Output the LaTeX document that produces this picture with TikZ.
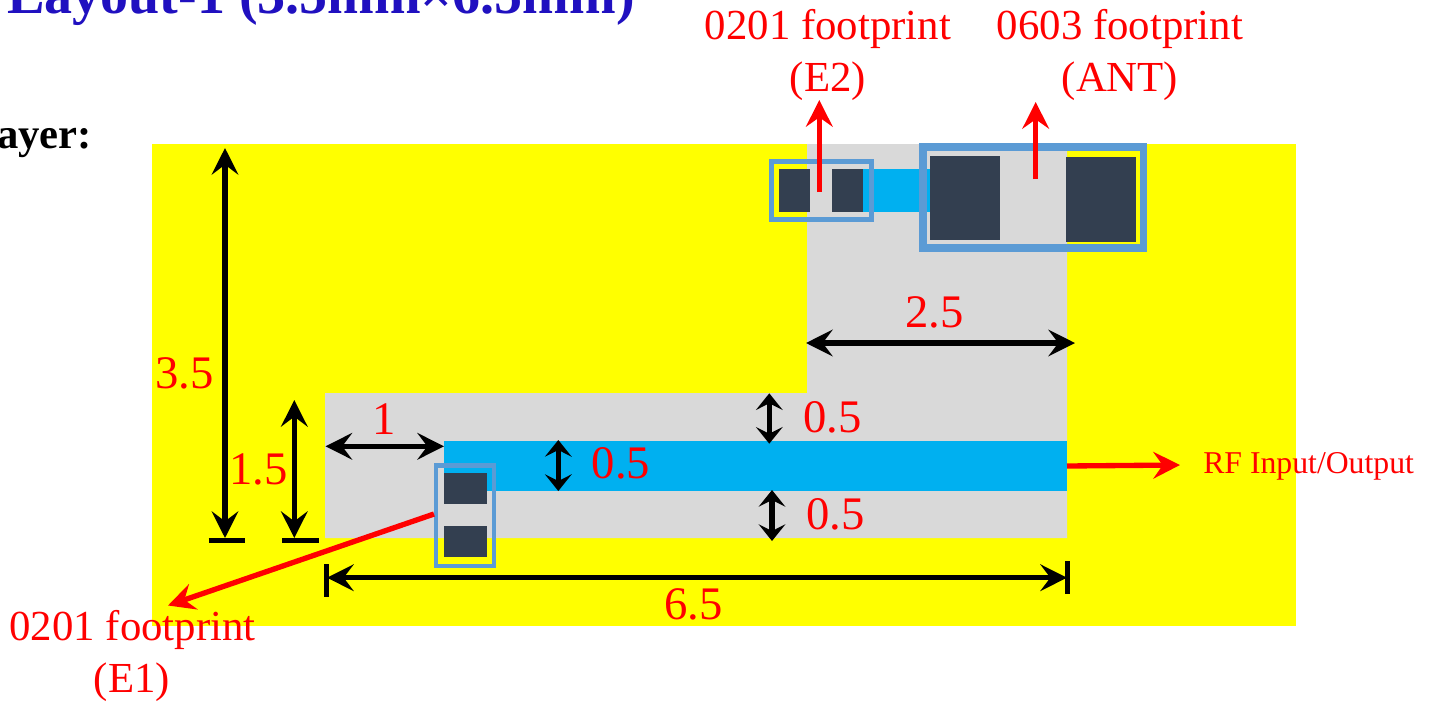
\documentclass[tikz,border=0pt]{standalone}
\usepackage{fontspec}
\setmainfont{Liberation Serif}
\usetikzlibrary{arrows.meta}
\definecolor{padc}{HTML}{333F50}
\definecolor{boxc}{HTML}{5B9BD5}
\definecolor{trace}{HTML}{00B0F0}
\definecolor{groundc}{HTML}{D9D9D9}
\definecolor{titlec}{HTML}{2010C0}
\definecolor{boardc}{HTML}{FFFF00}
\definecolor{redc}{HTML}{FF0000}
\tikzset{
  x=0.75pt,y=-0.75pt,
  fp/.style={draw=boxc,fill=none,line width=3.4pt},
  dim/.style={draw=black,line width=4pt,{Stealth[length=20pt,width=20pt,inset=7.5pt]}-{Stealth[length=20pt,width=20pt,inset=7.5pt]}},
  dimshort/.style={draw=black,line width=4pt,{Stealth[length=12.5pt,width=20pt,inset=5pt]}-{Stealth[length=12.5pt,width=20pt,inset=5pt]}},
  tick/.style={draw=black,line width=4pt},
  rarrow/.style={draw=redc,line width=4pt,-{Stealth[length=20pt,width=20pt,inset=7pt]}},
  lab/.style={text=redc,font=\fontsize{32.1}{36}\selectfont,anchor=base,inner sep=0pt},
  numlab/.style={text=redc,font=\fontsize{35}{38}\selectfont,anchor=base,inner sep=0pt},
}
\begin{document}
\begin{tikzpicture}
\useasboundingbox (0,0) rectangle (1435,704);
\clip (0,0) rectangle (1435,704);
% board
\fill[boardc] (152,144) rectangle (1296,626);
\fill[groundc] (325,393) -- (807,393) -- (807,144) -- (1067,144) -- (1067,538) -- (325,538) -- cycle;
\fill[trace] (444,441) rectangle (1067,491);
\fill[trace] (863,169) rectangle (930,212);
% pads
\fill[padc] (779,169) rectangle (810,212);
\fill[padc] (832,169) rectangle (863,212);
\fill[padc] (930,156) rectangle (1000,240);
\fill[padc] (1066,157) rectangle (1136,242);
\fill[padc] (444,473) rectangle (487,504);
\fill[padc] (444,526) rectangle (487,557);
% footprint outlines
\draw[fp] (771.5,161.6) rectangle (871.6,219.7);
\draw[fp,line width=5.4pt] (923,147) rectangle (1143.6,248);
\draw[fp] (436,465.6) rectangle (494,566);
% coordinates
\coordinate (a35t) at (225,148); \coordinate (a35b) at (225,538);
\coordinate (a15t) at (294.3,400); \coordinate (a15b) at (294.3,538);
\coordinate (t35l) at (208.7,540.7); \coordinate (t35r) at (245.3,540.7);
\coordinate (t15l) at (282,540.7); \coordinate (t15r) at (318.7,540.7);
\coordinate (a1l) at (325.5,446.3); \coordinate (a1r) at (444,446.3);
\coordinate (a65l) at (327,577.7); \coordinate (a65r) at (1067,577.7);
\coordinate (t65lt) at (326.7,564); \coordinate (t65lb) at (326.7,597);
\coordinate (t65rt) at (1067.5,561); \coordinate (t65rb) at (1067.5,594);
\coordinate (a25l) at (806,343); \coordinate (a25r) at (1075,343);
\coordinate (a05at) at (769.3,393.3); \coordinate (a05ab) at (769.3,443.7);
\coordinate (a05bt) at (558.3,440); \coordinate (a05bb) at (558.3,491);
\coordinate (a05ct) at (772,490); \coordinate (a05cb) at (772,541);
% black dimensions
\draw[dim] (a35t) -- (a35b);
\draw[dim] (a15t) -- (a15b);
\draw[tick] (t35l) -- (t35r);
\draw[tick] (t15l) -- (t15r);
\draw[dim] (a1l) -- (a1r);
\draw[dim] (a65l) -- (a65r);
\draw[tick] (t65lt) -- (t65lb);
\draw[tick] (t65rt) -- (t65rb);
\draw[dim] (a25l) -- (a25r);
\draw[dimshort] (a05at) -- (a05ab);
\draw[dimshort] (a05bt) -- (a05bb);
\draw[dimshort] (a05ct) -- (a05cb);
% red arrows
\coordinate (re2s) at (819.3,192); \coordinate (re2e) at (819.3,100);
\coordinate (rants) at (1035.7,179); \coordinate (rante) at (1035.7,102);
\coordinate (rrfs) at (1067,466); \coordinate (rrfe) at (1180,465);
\coordinate (re1s) at (434,514); \coordinate (re1e) at (168,605.5);
\draw[rarrow] (re2s) -- (re2e);
\draw[rarrow] (rants) -- (rante);
\draw[rarrow] (rrfs) -- (rrfe);
\draw[rarrow] (re1s) -- (re1e);
% text
\node[anchor=base west,inner sep=0pt,text=titlec,font=\fontsize{42}{46}\bfseries\selectfont] (title) at (7,13) {Layout-1 (3.5mm×6.5mm)};
\node[anchor=base west,inner sep=0pt,text=black,font=\fontsize{32}{36}\bfseries\selectfont] (layer) at (-3,148) {ayer:};
\node[lab] (le2a) at (828,39) {0201 footprint};
\node[lab] (le2b) at (828,91) {(E2)};
\node[lab] (lana) at (1120,39) {0603 footprint};
\node[lab] (lanb) at (1120,91) {(ANT)};
\node[lab] (le1a) at (132.5,640) {0201 footprint};
\node[lab] (le1b) at (132,692) {(E1)};
\node[anchor=base west,inner sep=0pt,text=redc,font=\fontsize{23.8}{28}\selectfont] (lrf) at (1203,473) {RF Input/Output};
\node[numlab] (n35) at (184.5,388) {3.5};
\node[numlab] (n15) at (258.5,484) {1.5};
\node[numlab] (n1) at (384,434) {1};
\node[numlab] (n05a) at (832.5,432) {0.5};
\node[numlab] (n05b) at (621,478) {0.5};
\node[numlab] (n05c) at (835.5,529) {0.5};
\node[numlab] (n25) at (934.5,327) {2.5};
\node[numlab] (n65) at (693.5,619) {6.5};
\end{tikzpicture}
\end{document}
